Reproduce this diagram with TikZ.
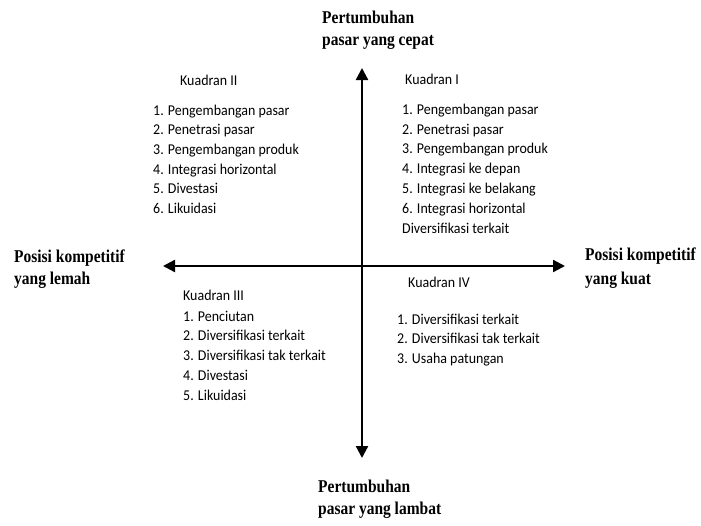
\documentclass[tikz,border=0pt]{standalone}
\usepackage{fontspec}
\usetikzlibrary{arrows.meta}
\newfontfamily\lblfont[FakeStretch=0.86]{Liberation Serif}
\newfontfamily\itemfont[FakeStretch=0.93]{Carlito}
\tikzset{
  lbl/.style={anchor=mid west, inner sep=0pt, font=\lblfont\bfseries\fontsize{18}{20}\selectfont},
  itm/.style={anchor=mid west, inner sep=0pt, font=\itemfont\fontsize{15}{17}\selectfont},
  axis/.style={line width=2.3pt, {Triangle[length=12pt,width=12pt]}-{Triangle[length=12pt,width=12pt]}}
}
\begin{document}
\begin{tikzpicture}[x=1pt,y=-1pt]
\useasboundingbox[fill=white] (0,0) rectangle (701,525);
% axes
\coordinate (top) at (362,68);
\coordinate (bot) at (362,458);
\coordinate (lft) at (163,266);
\coordinate (rgt) at (565,266);
\draw[axis] (bot) -- (top);
\draw[axis] (lft) -- (rgt);
% axis labels
\node[lbl] (t1) at (322,21) {Pertumbuhan};
\node[lbl] (t2) at (322,43) {pasar yang cepat};
\node[lbl] (l1) at (14,260) {Posisi kompetitif};
\node[lbl] (l2) at (14,282) {yang lemah};
\node[lbl] (r1) at (585,258) {Posisi kompetitif};
\node[lbl] (r2) at (585,282) {yang kuat};
\node[lbl] (b1) at (318,490) {Pertumbuhan};
\node[lbl] (b2) at (318,512) {pasar yang lambat};
% Kuadran II
\node[itm] (k2) at (180,83) {Kuadran II};
\foreach \t [count=\i] in {1. Pengembangan pasar,2. Penetrasi pasar,3. Pengembangan produk,4. Integrasi horizontal,5. Divestasi,6. Likuidasi}
  \node[itm] (k2-\i) at (153,{113+19.7*(\i-1)}) {\t};
% Kuadran I
\node[itm] (k1) at (405,82) {Kuadran I};
\foreach \t [count=\i] in {1. Pengembangan pasar,2. Penetrasi pasar,3. Pengembangan produk,4. Integrasi ke depan,5. Integrasi ke belakang,6. Integrasi horizontal,Diversifikasi terkait}
  \node[itm] (k1-\i) at (402,{112+19.9*(\i-1)}) {\t};
% Kuadran III
\node[itm] (k3) at (183,298) {Kuadran III};
\foreach \t [count=\i] in {1. Penciutan,2. Diversifikasi terkait,3. Diversifikasi tak terkait,4. Divestasi,5. Likuidasi}
  \node[itm] (k3-\i) at (183,{319+19.8*(\i-1)}) {\t};
% Kuadran IV
\node[itm] (k4) at (408,285) {Kuadran IV};
\foreach \t [count=\i] in {1. Diversifikasi terkait,2. Diversifikasi tak terkait,3. Usaha patungan}
  \node[itm] (k4-\i) at (397,{322+19.5*(\i-1)}) {\t};
\end{tikzpicture}
\end{document}
